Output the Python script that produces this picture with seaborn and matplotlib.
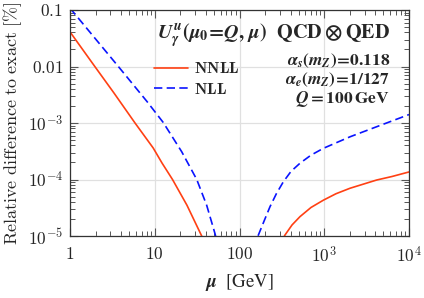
import matplotlib
matplotlib.use("Agg")
import matplotlib.pyplot as plt
import numpy as np
import pandas as pd
import seaborn as sns

# ── data ───────────────────────────────────────────────────────────────────────
nnll_lo_mu = [1.0, 1.82, 3.3, 5.85, 9.6, 12.2, 16.2, 24.0, 35.8, 44.9]
nnll_lo_y = [0.041, 0.0117, 3.4e-3, 1.0e-3, 3.6e-4, 1.95e-4, 1.0e-4, 3.5e-5, 1.0e-5, 4.5e-6]
nnll_hi_mu = [292, 344, 417, 517, 698, 975, 1376, 2014, 4160, 6300, 10000]
nnll_hi_y = [6.6e-6, 1.04e-5, 1.57e-5, 2.2e-5, 3.2e-5, 4.3e-5, 5.6e-5, 7.0e-5, 9.8e-5, 1.13e-4, 1.36e-4]

nll_lo_mu = [1.0, 3.72, 8.1, 12.6, 20.8, 31.3, 41.0, 51.4, 57.3]
nll_lo_y = [0.108, 0.01, 2.4e-3, 1.02e-3, 3.1e-4, 1.0e-4, 3.5e-5, 1.1e-5, 5.6e-6]
nll_hi_mu = [148, 167, 195, 229, 273, 329, 405, 517, 698, 975, 2014, 4160, 10000]
nll_hi_y = [6.2e-6, 1.04e-5, 1.84e-5, 3.3e-5, 5.65e-5, 9.1e-5, 1.39e-4, 1.94e-4,
            2.7e-4, 3.56e-4, 5.7e-4, 8.6e-4, 1.41e-3]

xticks = [1, 10, 100, 1e3, 1e4]
xticklabels = [r"$\mathbf{1}$", r"$\mathbf{10}$", r"$\mathbf{100}$",
               r"$\mathbf{10^{3}}$", r"$\mathbf{10^{4}}$"]
yticks = [1e-5, 1e-4, 1e-3, 0.01, 0.1]
yticklabels = [r"$\mathbf{10^{-5}}$", r"$\mathbf{10^{-4}}$", r"$\mathbf{10^{-3}}$",
               r"$\mathbf{0.01}$", r"$\mathbf{0.1}$"]

NNLL_COLOR = "#ff4013"
NLL_COLOR = "#0a14ff"
DASH = (0, (5, 2.6))

sns.set_theme(style="ticks")
plt.rcParams["mathtext.fontset"] = "cm"
plt.rcParams["font.family"] = ["DejaVu Serif"]
# bold (italic) STIX for the annotation block
plt.rcParams["mathtext.rm"] = "STIXGeneral:bold"
plt.rcParams["mathtext.bf"] = "STIXGeneral:bold"
plt.rcParams["mathtext.it"] = "STIXGeneral:italic:bold"
plt.rcParams["mathtext.fallback"] = "stix"

fig = plt.figure(figsize=(4.24, 2.98), dpi=100)
ax = fig.add_axes([70 / 424, 62 / 298, 339 / 424, 226 / 298])

sns.lineplot(x=nnll_lo_mu, y=nnll_lo_y, ax=ax, color=NNLL_COLOR, lw=1.2,
             label="NNLL", sort=False)
sns.lineplot(x=nnll_hi_mu, y=nnll_hi_y, ax=ax, color=NNLL_COLOR, lw=1.2, sort=False)
sns.lineplot(x=nll_lo_mu, y=nll_lo_y, ax=ax, color=NLL_COLOR, lw=1.2,
             linestyle=DASH, label="NLL", sort=False)
sns.lineplot(x=nll_hi_mu, y=nll_hi_y, ax=ax, color=NLL_COLOR, lw=1.2,
             linestyle=DASH, sort=False)

ax.set_xscale("log")
ax.set_yscale("log")
ax.set_xlim(1, 1e4)
ax.set_ylim(1e-5, 0.1)
ax.set_xticks(xticks)
ax.set_xticklabels(xticklabels, fontsize=12.5)
ax.set_yticks(yticks)
ax.set_yticklabels(yticklabels, fontsize=12.5)
ax.grid(True, which="major", color="#e0e0e0", lw=0.9)
ax.tick_params(which="both", direction="in", top=True, right=True, color="#555555")
ax.tick_params(which="major", length=6, width=0.8)
ax.tick_params(which="minor", length=3.5, width=0.7)
ax.tick_params(axis="x", which="major", pad=7)
ax.tick_params(axis="y", which="major", pad=5)
for s in ax.spines.values():
    s.set_color("#333333")
    s.set_linewidth(0.9)

ax.set_xlabel(r"$\mu$  [GeV]", fontsize=13.5, labelpad=4,
              fontfamily="STIXGeneral", math_fontfamily="custom")
ax.set_ylabel(r"$\mathrm{Relative\ difference\ to\ exact\ [\%]}$", fontsize=13, labelpad=3)

ax.text(0.944, 0.872,
        r"$U_{\gamma}^{u}(\mu_0\!=\!Q,\,\mu)\ \ \mathrm{QCD}\otimes\mathrm{QED}$",
        transform=ax.transAxes, ha="right", va="baseline", fontsize=14.5,
        math_fontfamily="custom")
ax.text(0.944, 0.755, r"$\alpha_s(m_Z)\!=\!\mathrm{0.118}$",
        transform=ax.transAxes, ha="right", va="baseline", fontsize=12.5,
        math_fontfamily="custom")
ax.text(0.944, 0.672, r"$\alpha_e(m_Z)\!=\!\mathrm{1/127}$",
        transform=ax.transAxes, ha="right", va="baseline", fontsize=12.5,
        math_fontfamily="custom")
ax.text(0.944, 0.590, r"$Q = \mathrm{100\,GeV}$",
        transform=ax.transAxes, ha="right", va="baseline", fontsize=12.5,
        math_fontfamily="custom")

leg = ax.legend(loc="upper left", bbox_to_anchor=(0.23, 0.805), frameon=False,
                handlelength=2.1, handletextpad=0.4, labelspacing=0.2,
                borderaxespad=0, prop={"size": 11.5})
for t in leg.get_texts():
    t.set_text(r"$\mathbf{%s}$" % t.get_text())

fig.savefig("out.png", dpi=100)
